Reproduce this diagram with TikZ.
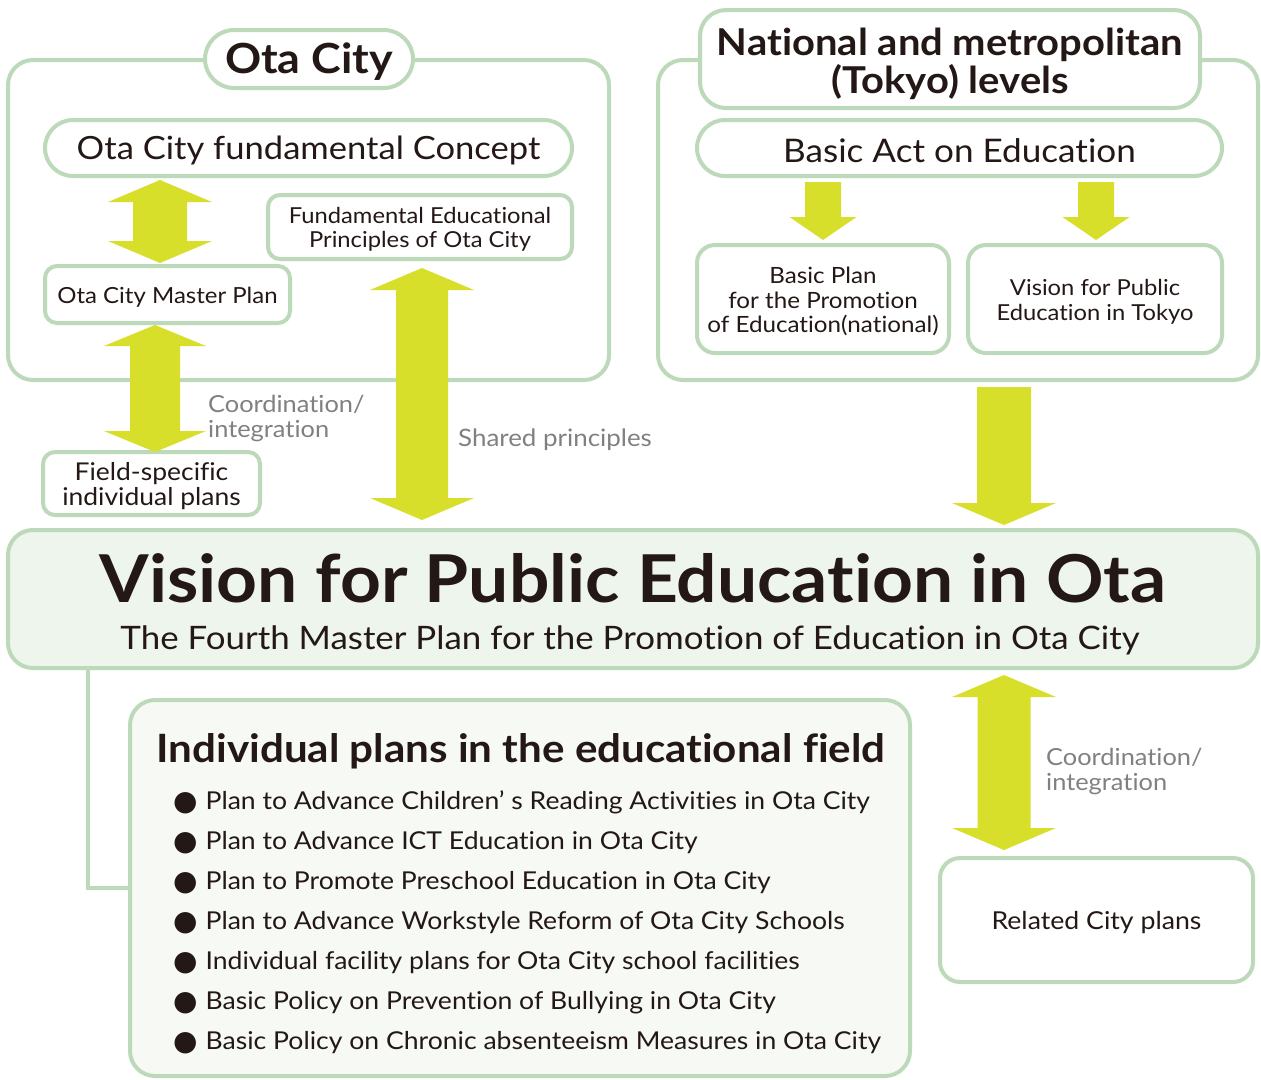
\documentclass[tikz,border=0pt]{standalone}
\usepackage{fontspec}
\setmainfont{Lato}[FakeStretch=1.08, Ligatures=NoCommon]
\newfontfamily\symfont{DejaVu Sans}
\usetikzlibrary{calc}
\definecolor{bord}{HTML}{BCDABA}
\definecolor{mainfill}{HTML}{EEF5EC}
\definecolor{listfill}{HTML}{F6F9F4}
\definecolor{arr}{HTML}{D7DF2B}
\definecolor{ink}{HTML}{231815}
\definecolor{note}{HTML}{808080}
\newcommand\fs[1]{\fontsize{#1}{#1}\selectfont}
\newcommand\fsb[2]{\fontsize{#1}{#2}\selectfont}
\newcommand\bul{{\symfont\fontsize{28}{28}\selectfont\raisebox{-1pt}{●}}\hspace{8pt}}
% double vertical block arrow: x, ytop, ybot, shaft half, head half, head length
\newcommand\dblarr[6]{\fill[arr] (#1,#2) -- (#1+#5,#2+#6) -- (#1+#4,#2+#6) -- (#1+#4,#3-#6) -- (#1+#5,#3-#6) -- (#1,#3) -- (#1-#5,#3-#6) -- (#1-#4,#3-#6) -- (#1-#4,#2+#6) -- (#1-#5,#2+#6) -- cycle;}
\newcommand\downarr[6]{\fill[arr] (#1-#4,#2) -- (#1+#4,#2) -- (#1+#4,#3-#6) -- (#1+#5,#3-#6) -- (#1,#3) -- (#1-#5,#3-#6) -- (#1-#4,#3-#6) -- cycle;}
\tikzset{
  frame/.style={draw=bord, line width=4pt, fill=white, inner sep=0pt, text=ink},
  txt/.style={text=ink, inner sep=0pt, align=center, yshift=-2.5pt},
  gray/.style={text=note, inner sep=0pt, align=left, anchor=west, yshift=-2.5pt},
}
\begin{document}
\begin{tikzpicture}[x=1pt, y=-1pt]
\useasboundingbox (0,0) rectangle (1261,1079);

% ---------- Left: Ota City ----------
\node[frame, rounded corners=25pt, minimum width=601pt, minimum height=320pt] (otaframe) at (308.5,220) {};
\node[frame, rounded corners=29pt, minimum width=208pt, minimum height=58pt] (otatitle) at (309,59) {};
\node[txt, font=\fs{41.5}\bfseries] at (otatitle) {Ota City};

\node[frame, rounded corners=28pt, minimum width=527pt, minimum height=56pt] (concept) at (308.5,148) {};
\node[txt, font=\fs{32}] at (concept) {Ota City fundamental Concept};

\node[frame, rounded corners=12pt, minimum width=304pt, minimum height=64pt] (fundprin) at (420,227) {};
\node[txt, font=\fsb{22}{24.5}] at (fundprin) {Fundamental Educational\\Principles of Ota City};

\node[frame, rounded corners=12pt, minimum width=245pt, minimum height=57pt] (master) at (167.5,294.5) {};
\node[txt, font=\fs{22.2}] at (master) {Ota City Master Plan};

\node[frame, rounded corners=12pt, minimum width=217pt, minimum height=63pt] (field) at (151.5,483.5) {};
\node[txt, font=\fsb{24.5}{25}] at (field) {Field-specific\\individual plans};

\dblarr{160}{180}{263}{27}{52}{22}
\dblarr{155}{325}{452}{25}{51}{21}
\dblarr{422}{268}{520}{26}{52}{22}

\node[gray, font=\fsb{23.5}{25}] (coord1) at (208,416) {Coordination/\\integration};
\node[gray, font=\fs{24}] (shared) at (458,437) {Shared principles};

% ---------- Right: National ----------
\node[frame, rounded corners=25pt, minimum width=600pt, minimum height=320pt] (natframe) at (958,220) {};
\node[frame, rounded corners=26pt, minimum width=500pt, minimum height=98pt] (nattitle) at (950,59) {};
\node[txt, font=\fsb{37}{38}\bfseries, yshift=-2pt] at (nattitle) {National and metropolitan\\(Tokyo) levels};

\node[frame, rounded corners=28pt, minimum width=525pt, minimum height=56pt] (basicact) at (959.5,148) {};
\node[txt, font=\fs{32.5}] at (basicact) {Basic Act on Education};

\node[frame, rounded corners=18pt, minimum width=252pt, minimum height=108pt] (basicplan) at (823,299) {};
\node[txt, font=\fsb{22.4}{24.5}] at (basicplan) {Basic Plan\\for the Promotion\\of Education(national)};

\node[frame, rounded corners=18pt, minimum width=254pt, minimum height=108pt] (tokyo) at (1095,299) {};
\node[txt, font=\fsb{22}{25}] at (tokyo) {Vision for Public\\Education in Tokyo};

\downarr{823}{182}{240}{18}{33.5}{23}
\downarr{1096}{182}{240}{18}{33.5}{23}
\downarr{1004}{387}{525}{27}{52}{22}

% ---------- Main ----------
\node[frame, fill=mainfill, rounded corners=25pt, minimum width=1250pt, minimum height=138pt] (main) at (633,599) {};
\node[txt, font=\fs{66}\bfseries, yshift=2pt] (maintitle) at (633,578) {Vision for Public Education in Ota};
\node[txt, font=\fs{32.3}] (mainsub) at (630,638) {The Fourth Master Plan for the Promotion of Education in Ota City};

% ---------- Individual plans ----------
\coordinate (tap) at ($(main.south west)+(82,0)$);
\node[frame, fill=listfill, rounded corners=25pt, minimum width=780pt, minimum height=376pt] (indiv) at (520,888) {};
\draw[bord, line width=4pt] (tap) |- (indiv.west);
\node[txt, font=\fs{39}\bfseries] (indivtitle) at (521,749) {Individual plans in the educational field};
\node[txt, align=left, anchor=north west, font=\fsb{24.6}{40}] (list) at (173,788) {%
\bul Plan to Advance Children’ s Reading Activities in Ota City\\
\bul Plan to Advance ICT Education in Ota City\\
\bul Plan to Promote Preschool Education in Ota City\\
\bul Plan to Advance Workstyle Reform of Ota City Schools\\
\bul Individual facility plans for Ota City school facilities\\
\bul Basic Policy on Prevention of Bullying in Ota City\\
\bul Basic Policy on Chronic absenteeism Measures in Ota City};

% ---------- Related ----------
\dblarr{1004}{675}{850}{26.5}{52}{22}
\node[gray, font=\fsb{23.5}{25}] (coord2) at (1046,769) {Coordination/\\integration};
\node[frame, rounded corners=20pt, minimum width=313pt, minimum height=124pt] (related) at (1096.5,920) {};
\node[txt, font=\fs{24.7}] at (related) {Related City plans};
\end{tikzpicture}
\end{document}
